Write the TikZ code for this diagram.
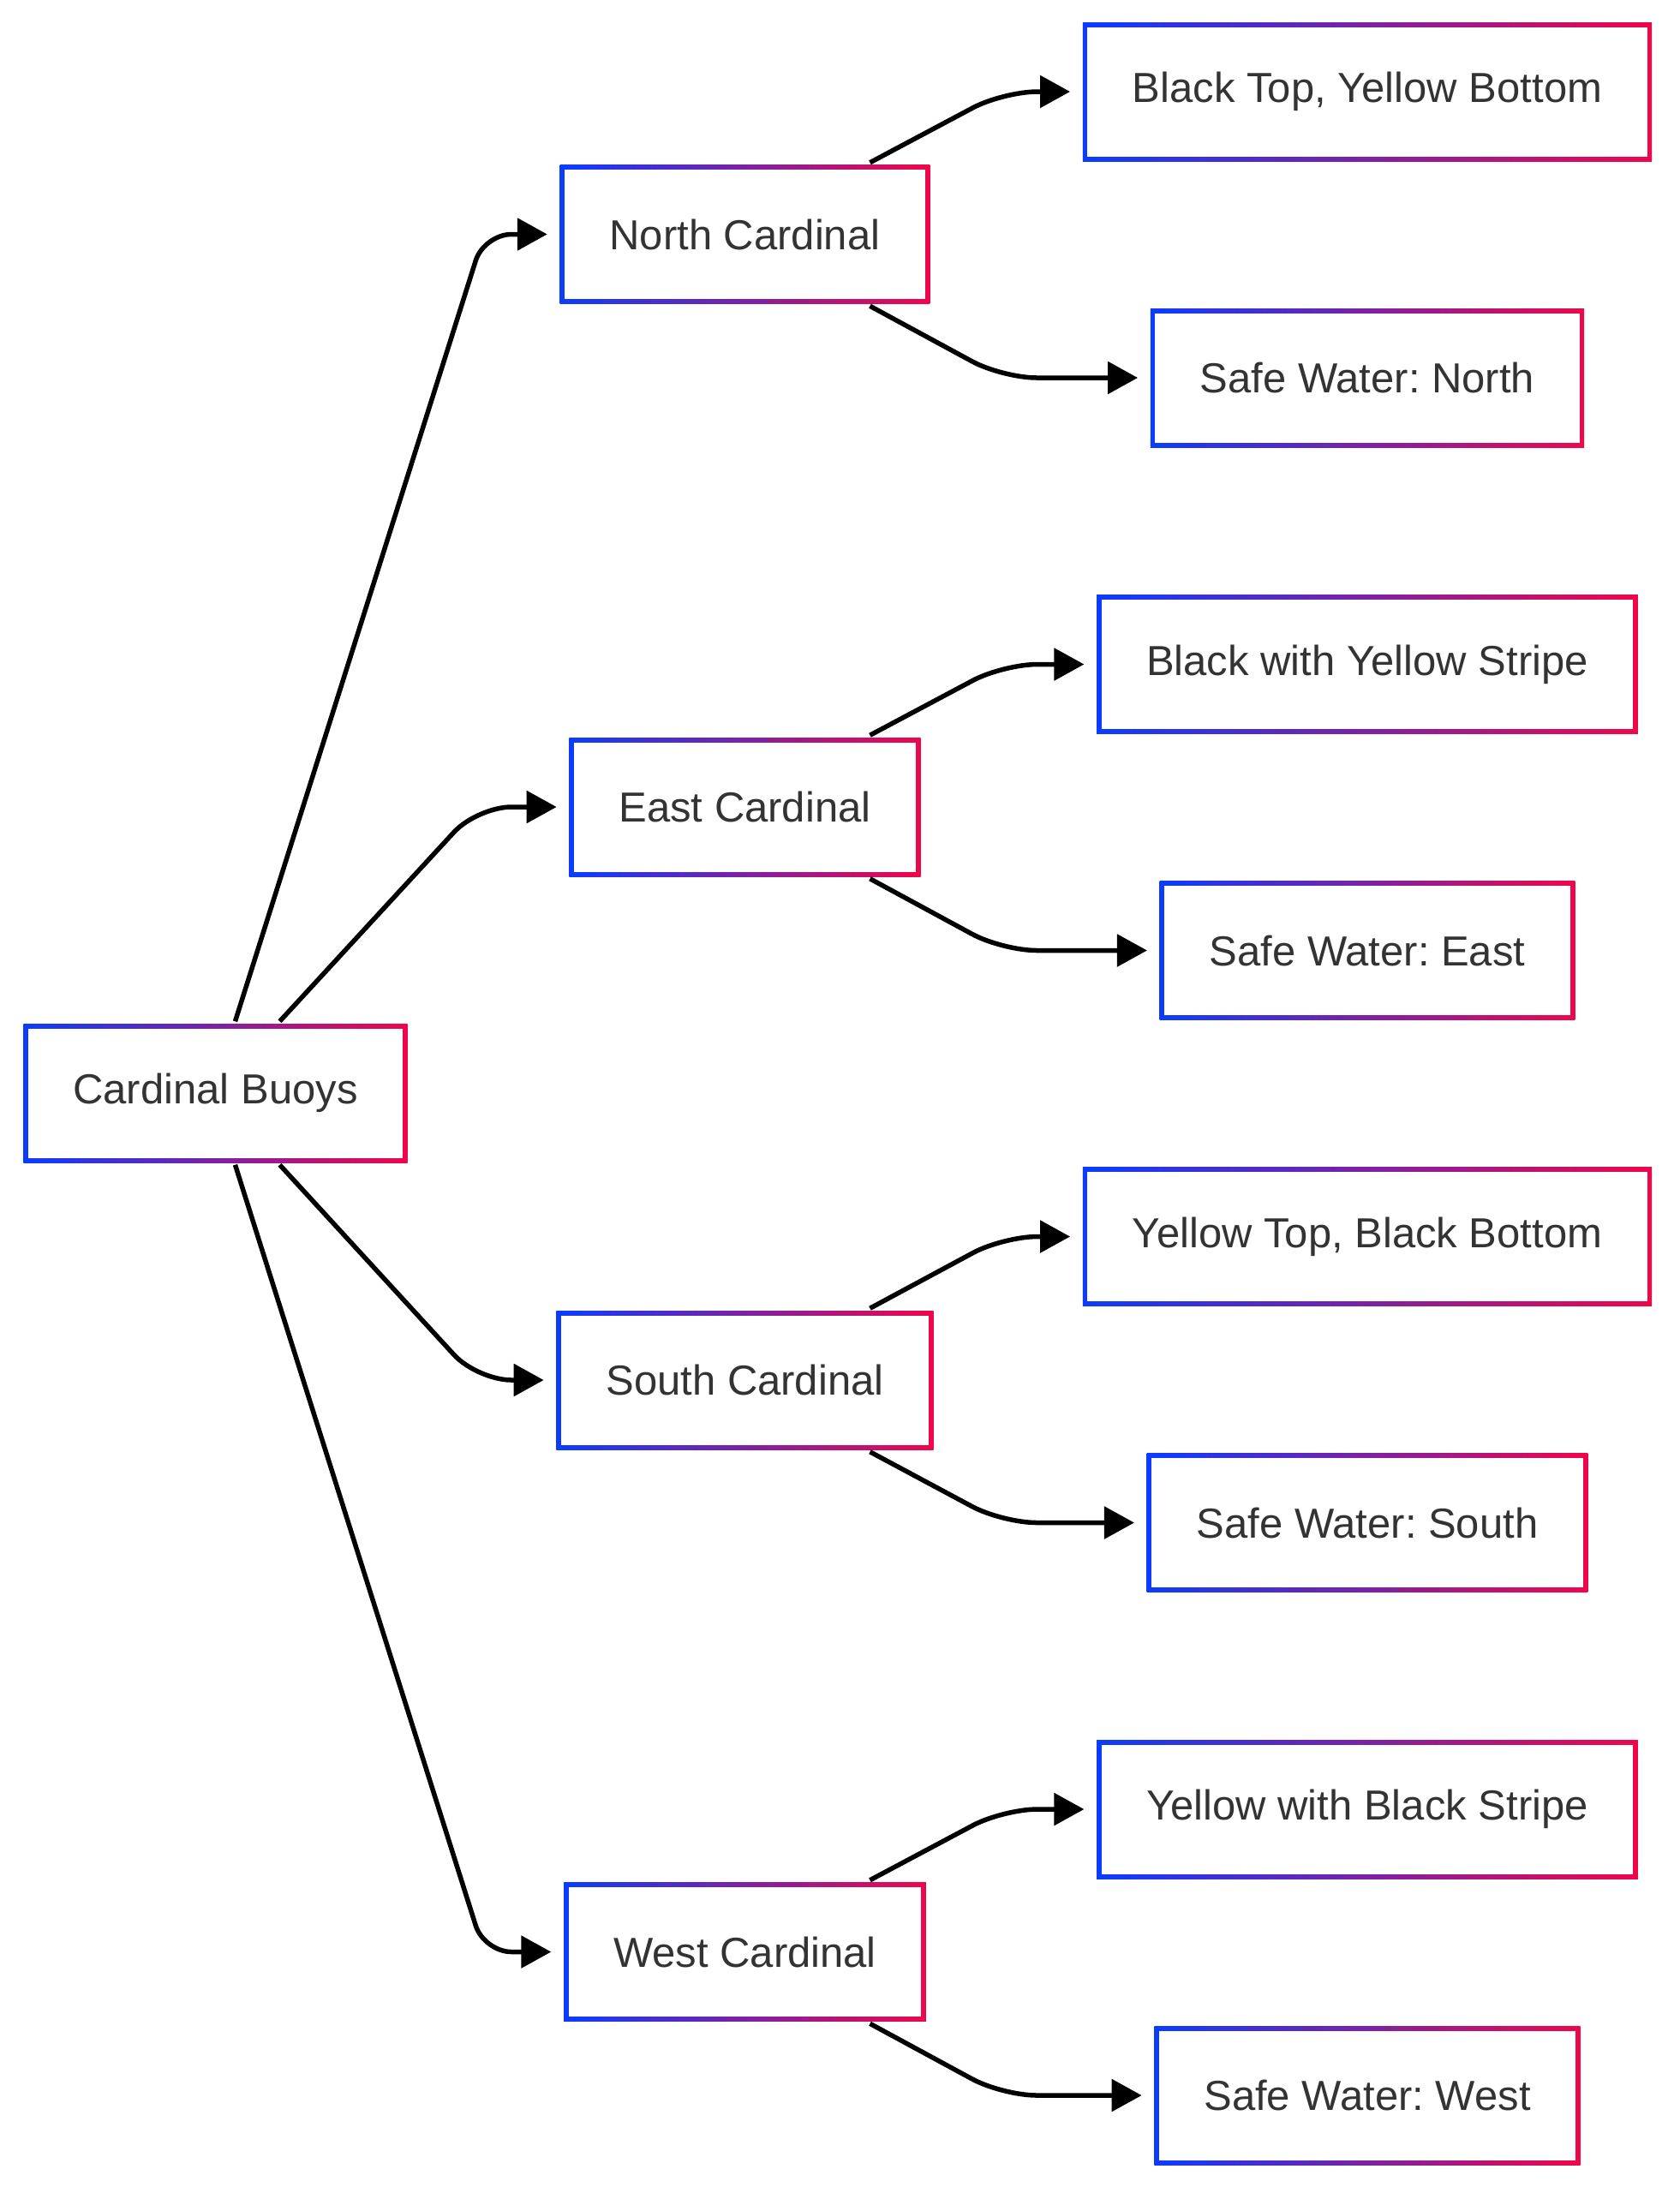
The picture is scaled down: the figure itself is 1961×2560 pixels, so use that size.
\documentclass[tikz,border=0pt]{standalone}
\usepackage{fontspec}
\setmainfont{Liberation Sans}
\usetikzlibrary{arrows.meta}
\definecolor{edgeblue}{HTML}{0A3CFF}
\definecolor{edgered}{HTML}{F0064A}
\definecolor{labelgray}{HTML}{333333}
\frenchspacing
\begin{document}
\begin{tikzpicture}[x=1pt, y=-1pt, >={Triangle[length=35pt,width=37pt]}, line width=5.5pt]
   \useasboundingbox (0,0) rectangle (1961,2560);

   \begin{scope}[every node/.style={rectangle,minimum height=162pt,inner xsep=58pt,text=labelgray,font=\fontsize{49}{59}\selectfont,
      path picture={\shade[left color=edgeblue,right color=edgered] (path picture bounding box.south west) rectangle (path picture bounding box.north east);
      \fill[white] ([shift={(5.5pt,-5.5pt)}]path picture bounding box.north west) rectangle ([shift={(-5.5pt,5.5pt)}]path picture bounding box.south east);}}]
    \node (root) at (251.5,1276) {Cardinal Buoys};
    \node (north) at (869.5,273.5) {North Cardinal};
    \node (east) at (869.5,942) {East Cardinal};
    \node (south) at (869.5,1611) {South Cardinal};
    \node (west) at (869.5,2278.5) {West Cardinal};
    \node (northtop) at (1596,107) {Black Top, Yellow Bottom};
    \node (northsafe) at (1596,441) {Safe Water: North};
    \node (easttop) at (1596,775.5) {Black with Yellow Stripe};
    \node (eastsafe) at (1596,1109.5) {Safe Water: East};
    \node (southtop) at (1596,1443.5) {Yellow Top, Black Bottom};
    \node (southsafe) at (1596,1777.5) {Safe Water: South};
    \node (westtop) at (1596,2112) {Yellow with Black Stripe};
    \node (westsafe) at (1596,2446) {Safe Water: West};
   \end{scope}

   \begin{scope}[every path/.style={->,shorten >=12pt}]
\draw[rounded corners=32pt] ([xshift=23pt]root.north) -- (565,273.5) -- (north.west);
\draw[rounded corners=40pt] ([xshift=75pt]root.north) -- (557,942) -- (east.west);
\draw[rounded corners=40pt] ([xshift=75pt]root.south) -- (557,1611) -- (south.west);
\draw[rounded corners=32pt] ([xshift=23pt]root.south) -- (565,2278.5) -- (west.west);
\draw[rounded corners=40pt] ([xshift=146pt]north.north) -- (1171,107) -- (northtop.west);
\draw[rounded corners=40pt] ([xshift=146pt]north.south) -- (1170,441) -- (northsafe.west);
\draw[rounded corners=40pt] ([xshift=146pt]east.north) -- (1171,775.5) -- (easttop.west);
\draw[rounded corners=40pt] ([xshift=146pt]east.south) -- (1170,1109.5) -- (eastsafe.west);
\draw[rounded corners=40pt] ([xshift=146pt]south.north) -- (1171,1443.5) -- (southtop.west);
\draw[rounded corners=40pt] ([xshift=146pt]south.south) -- (1170,1777.5) -- (southsafe.west);
\draw[rounded corners=40pt] ([xshift=146pt]west.north) -- (1171,2112) -- (westtop.west);
\draw[rounded corners=40pt] ([xshift=146pt]west.south) -- (1170,2446) -- (westsafe.west);
   \end{scope}
\end{tikzpicture}
\end{document}
